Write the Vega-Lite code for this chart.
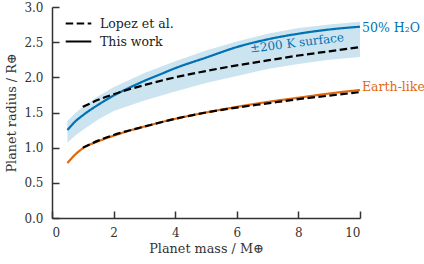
{
  "$schema": "https://vega.github.io/schema/vega-lite/v6.json",
  "width": 308,
  "height": 211,
  "autosize": {"type": "none"},
  "padding": {"left": 52, "top": 7, "right": 64, "bottom": 46},
  "background": "white",
  "config": {
    "view": {"stroke": null},
    "font": "DejaVu Serif",
    "axis": {
      "grid": false,
      "domainColor": "#333",
      "domainWidth": 1.5,
      "tickColor": "#333",
      "tickWidth": 1.5,
      "labelFont": "DejaVu Serif",
      "labelFontSize": 12,
      "labelColor": "#333",
      "labelOverlap": false,
      "titleFont": "DejaVu Serif",
      "titleFontSize": 12.8,
      "titleFontWeight": "normal",
      "titleColor": "#333"
    }
  },
  "resolve": {"axis": {"x": "independent", "y": "independent"}},
  "datasets": {
    "band": [
      {"mass": 0.5, "lo": 1.07, "hi": 1.38},
      {"mass": 0.75, "lo": 1.17, "hi": 1.49},
      {"mass": 1, "lo": 1.25, "hi": 1.58},
      {"mass": 1.5, "lo": 1.40, "hi": 1.73},
      {"mass": 2, "lo": 1.52, "hi": 1.86},
      {"mass": 3, "lo": 1.67, "hi": 2.06},
      {"mass": 4, "lo": 1.80, "hi": 2.23},
      {"mass": 5, "lo": 1.92, "hi": 2.38},
      {"mass": 6, "lo": 2.02, "hi": 2.51},
      {"mass": 7, "lo": 2.12, "hi": 2.62},
      {"mass": 8, "lo": 2.19, "hi": 2.70},
      {"mass": 9, "lo": 2.25, "hi": 2.75},
      {"mass": 10, "lo": 2.29, "hi": 2.79}
    ],
    "lines": [
      {"mass": 0.5, "radius": 1.25, "series": "h2o_this", "comp": "50% H2O", "model": "This work"},
      {"mass": 0.75, "radius": 1.37, "series": "h2o_this", "comp": "50% H2O", "model": "This work"},
      {"mass": 1, "radius": 1.46, "series": "h2o_this", "comp": "50% H2O", "model": "This work"},
      {"mass": 1.5, "radius": 1.61, "series": "h2o_this", "comp": "50% H2O", "model": "This work"},
      {"mass": 2, "radius": 1.74, "series": "h2o_this", "comp": "50% H2O", "model": "This work"},
      {"mass": 2.5, "radius": 1.85, "series": "h2o_this", "comp": "50% H2O", "model": "This work"},
      {"mass": 3, "radius": 1.95, "series": "h2o_this", "comp": "50% H2O", "model": "This work"},
      {"mass": 3.5, "radius": 2.04, "series": "h2o_this", "comp": "50% H2O", "model": "This work"},
      {"mass": 4, "radius": 2.13, "series": "h2o_this", "comp": "50% H2O", "model": "This work"},
      {"mass": 5, "radius": 2.28, "series": "h2o_this", "comp": "50% H2O", "model": "This work"},
      {"mass": 6, "radius": 2.43, "series": "h2o_this", "comp": "50% H2O", "model": "This work"},
      {"mass": 7, "radius": 2.54, "series": "h2o_this", "comp": "50% H2O", "model": "This work"},
      {"mass": 8, "radius": 2.62, "series": "h2o_this", "comp": "50% H2O", "model": "This work"},
      {"mass": 9, "radius": 2.68, "series": "h2o_this", "comp": "50% H2O", "model": "This work"},
      {"mass": 10, "radius": 2.72, "series": "h2o_this", "comp": "50% H2O", "model": "This work"},
      {"mass": 0.5, "radius": 0.78, "series": "earth_this", "comp": "Earth-like", "model": "This work"},
      {"mass": 0.75, "radius": 0.90, "series": "earth_this", "comp": "Earth-like", "model": "This work"},
      {"mass": 1, "radius": 0.99, "series": "earth_this", "comp": "Earth-like", "model": "This work"},
      {"mass": 1.5, "radius": 1.09, "series": "earth_this", "comp": "Earth-like", "model": "This work"},
      {"mass": 2, "radius": 1.17, "series": "earth_this", "comp": "Earth-like", "model": "This work"},
      {"mass": 2.5, "radius": 1.24, "series": "earth_this", "comp": "Earth-like", "model": "This work"},
      {"mass": 3, "radius": 1.30, "series": "earth_this", "comp": "Earth-like", "model": "This work"},
      {"mass": 4, "radius": 1.41, "series": "earth_this", "comp": "Earth-like", "model": "This work"},
      {"mass": 5, "radius": 1.50, "series": "earth_this", "comp": "Earth-like", "model": "This work"},
      {"mass": 6, "radius": 1.58, "series": "earth_this", "comp": "Earth-like", "model": "This work"},
      {"mass": 7, "radius": 1.65, "series": "earth_this", "comp": "Earth-like", "model": "This work"},
      {"mass": 8, "radius": 1.71, "series": "earth_this", "comp": "Earth-like", "model": "This work"},
      {"mass": 9, "radius": 1.77, "series": "earth_this", "comp": "Earth-like", "model": "This work"},
      {"mass": 10, "radius": 1.82, "series": "earth_this", "comp": "Earth-like", "model": "This work"},
      {"mass": 1, "radius": 1.58, "series": "h2o_lopez", "comp": "Lopez", "model": "Lopez et al."},
      {"mass": 1.5, "radius": 1.68, "series": "h2o_lopez", "comp": "Lopez", "model": "Lopez et al."},
      {"mass": 2, "radius": 1.76, "series": "h2o_lopez", "comp": "Lopez", "model": "Lopez et al."},
      {"mass": 3, "radius": 1.89, "series": "h2o_lopez", "comp": "Lopez", "model": "Lopez et al."},
      {"mass": 4, "radius": 2.00, "series": "h2o_lopez", "comp": "Lopez", "model": "Lopez et al."},
      {"mass": 5, "radius": 2.09, "series": "h2o_lopez", "comp": "Lopez", "model": "Lopez et al."},
      {"mass": 6, "radius": 2.17, "series": "h2o_lopez", "comp": "Lopez", "model": "Lopez et al."},
      {"mass": 7, "radius": 2.24, "series": "h2o_lopez", "comp": "Lopez", "model": "Lopez et al."},
      {"mass": 8, "radius": 2.31, "series": "h2o_lopez", "comp": "Lopez", "model": "Lopez et al."},
      {"mass": 9, "radius": 2.37, "series": "h2o_lopez", "comp": "Lopez", "model": "Lopez et al."},
      {"mass": 10, "radius": 2.43, "series": "h2o_lopez", "comp": "Lopez", "model": "Lopez et al."},
      {"mass": 1, "radius": 1.00, "series": "earth_lopez", "comp": "Lopez", "model": "Lopez et al."},
      {"mass": 1.5, "radius": 1.10, "series": "earth_lopez", "comp": "Lopez", "model": "Lopez et al."},
      {"mass": 2, "radius": 1.18, "series": "earth_lopez", "comp": "Lopez", "model": "Lopez et al."},
      {"mass": 3, "radius": 1.30, "series": "earth_lopez", "comp": "Lopez", "model": "Lopez et al."},
      {"mass": 4, "radius": 1.41, "series": "earth_lopez", "comp": "Lopez", "model": "Lopez et al."},
      {"mass": 5, "radius": 1.50, "series": "earth_lopez", "comp": "Lopez", "model": "Lopez et al."},
      {"mass": 6, "radius": 1.57, "series": "earth_lopez", "comp": "Lopez", "model": "Lopez et al."},
      {"mass": 7, "radius": 1.63, "series": "earth_lopez", "comp": "Lopez", "model": "Lopez et al."},
      {"mass": 8, "radius": 1.69, "series": "earth_lopez", "comp": "Lopez", "model": "Lopez et al."},
      {"mass": 9, "radius": 1.74, "series": "earth_lopez", "comp": "Lopez", "model": "Lopez et al."},
      {"mass": 10, "radius": 1.79, "series": "earth_lopez", "comp": "Lopez", "model": "Lopez et al."}
    ],
    "notes": [
      {"mass": 10, "radius": 2.70, "label": "50% H₂O", "kind": "50% H2O"},
      {"mass": 10, "radius": 1.86, "label": "Earth-like", "kind": "Earth-like"}
    ],
    "band_note": [
      {"mass": 7.95, "radius": 2.49, "label": "±200 K surface"}
    ]
  },
  "layer": [
    {
      "data": {"name": "band"},
      "mark": {"type": "area", "color": "#0072B2", "opacity": 0.2},
      "encoding": {
        "x": {"field": "mass", "type": "quantitative", "scale": {"domain": [0, 10]},
              "axis": {"orient": "bottom", "values": [0, 2, 4, 6, 8, 10], "ticks": false, "title": "Planet mass / M⊕", "labelPadding": 9, "titlePadding": 4}},
        "y": {"field": "hi", "type": "quantitative", "scale": {"domain": [0, 3]},
              "axis": {"orient": "left", "values": [0, 0.5, 1, 1.5, 2, 2.5, 3], "format": ".1f", "ticks": false, "title": "Planet radius / R⊕", "labelPadding": 9, "titlePadding": 5}},
        "y2": {"field": "lo"}
      }
    },
    {
      "data": {"name": "lines"},
      "transform": [{"filter": "datum.model === 'This work'"}],
      "mark": {"type": "line", "strokeWidth": 2.2, "interpolate": "monotone"},
      "encoding": {
        "x": {"field": "mass", "type": "quantitative",
              "axis": {"orient": "bottom", "values": [0, 2, 4, 6, 8, 10], "offset": -7, "tickSize": 7, "domain": false, "labels": false, "title": null}},
        "y": {"field": "radius", "type": "quantitative",
              "axis": {"orient": "left", "values": [0, 0.5, 1, 1.5, 2, 2.5, 3], "offset": -7, "tickSize": 7, "domain": false, "labels": false, "title": null}},
        "detail": {"field": "series"},
        "color": {"field": "comp", "type": "nominal",
                  "scale": {"domain": ["50% H2O", "Earth-like", "Lopez"], "range": ["#0072B2", "#E0690F", "#000000"]},
                  "legend": null},
        "strokeDash": {"field": "model", "type": "nominal",
                       "scale": {"domain": ["Lopez et al.", "This work"], "range": [[7.5, 3.5], [1, 0]]},
                       "legend": {"title": null, "orient": "none", "legendX": 17, "legendY": 7,
                                  "symbolType": "M-1.6,0H1.6", "symbolSize": 256, "symbolStrokeWidth": 2.2,
                                  "symbolStrokeColor": "#000", "symbolFillColor": "transparent",
                                  "labelFont": "DejaVu Serif", "labelFontSize": 12.5,
                                  "labelColor": "#222", "rowPadding": 2, "labelOffset": 12}}
      }
    },
    {
      "data": {"name": "lines"},
      "transform": [{"filter": "datum.model === 'Lopez et al.'"}],
      "mark": {"type": "line", "strokeWidth": 2.2, "interpolate": "monotone"},
      "encoding": {
        "x": {"field": "mass", "type": "quantitative", "axis": null},
        "y": {"field": "radius", "type": "quantitative", "axis": null},
        "detail": {"field": "series"},
        "color": {"field": "comp", "type": "nominal", "legend": null},
        "strokeDash": {"field": "model", "type": "nominal"}
      }
    },
    {
      "data": {"name": "notes"},
      "mark": {"type": "text", "align": "left", "baseline": "middle", "dx": 2, "font": "DejaVu Serif", "fontSize": 12.5},
      "encoding": {
        "x": {"field": "mass", "type": "quantitative", "axis": null},
        "y": {"field": "radius", "type": "quantitative", "axis": null},
        "text": {"field": "label"},
        "color": {"field": "kind", "type": "nominal", "legend": null}
      }
    },
    {
      "data": {"name": "band_note"},
      "mark": {"type": "text", "align": "center", "baseline": "middle", "angle": -7, "font": "DejaVu Serif", "fontSize": 12, "color": "#0072B2"},
      "encoding": {
        "x": {"field": "mass", "type": "quantitative", "axis": null},
        "y": {"field": "radius", "type": "quantitative", "axis": null},
        "text": {"field": "label"}
      }
    }
  ]
}
